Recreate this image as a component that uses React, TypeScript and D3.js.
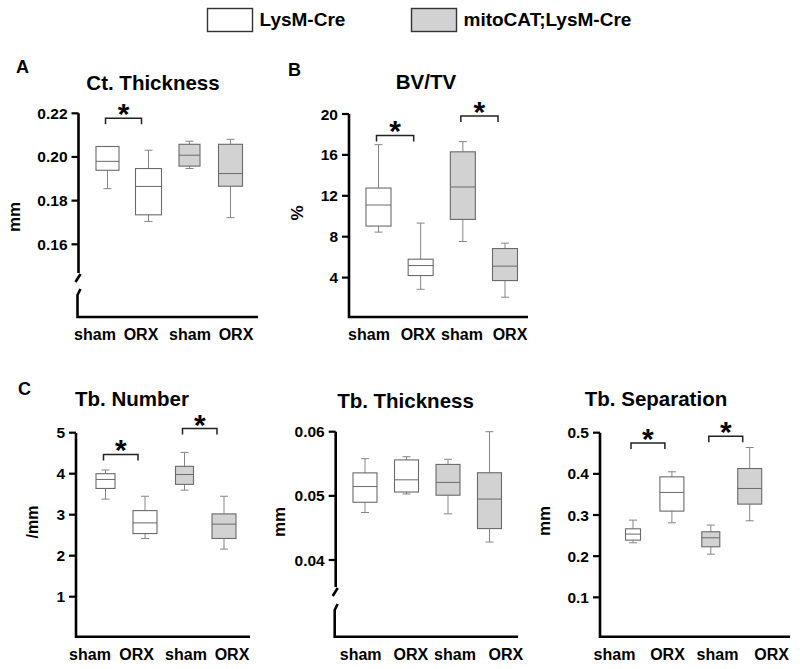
import React from "react";
import * as d3 from "d3";

// ---------- DATA ----------
const groups = ["LysM-Cre sham", "LysM-Cre ORX", "mitoCAT;LysM-Cre sham", "mitoCAT;LysM-Cre ORX"];
const xTickLabels = ["sham", "ORX", "sham", "ORX"];
const legendLabels = ["LysM-Cre", "mitoCAT;LysM-Cre"];

// box stats: [min, q1, median, q3, max]
const ctThickness = [
  [0.1855, 0.1939, 0.198, 0.2048, 0.2048],
  [0.1705, 0.1735, 0.1865, 0.1947, 0.2031],
  [0.1947, 0.1958, 0.2008, 0.2058, 0.2072],
  [0.1722, 0.1866, 0.1924, 0.2058, 0.2081],
];
const bvtv = [
  [8.45, 9.04, 11.1, 12.76, 17.0],
  [2.86, 4.2, 5.18, 5.8, 9.33],
  [7.53, 9.69, 12.86, 16.3, 17.3],
  [2.08, 3.71, 5.12, 6.84, 7.37],
];
const tbNumber = [
  [3.38, 3.64, 3.86, 4.0, 4.09],
  [2.42, 2.54, 2.8, 3.1, 3.45],
  [3.6, 3.74, 3.98, 4.18, 4.52],
  [2.16, 2.42, 2.77, 3.02, 3.45],
];
const tbThickness = [
  [0.0474, 0.049, 0.05145, 0.05358, 0.0558],
  [0.0503, 0.0506, 0.0525, 0.0556, 0.0561],
  [0.0472, 0.0501, 0.0521, 0.0549, 0.0557],
  [0.0428, 0.0449, 0.0495, 0.0536, 0.06],
];
const tbSeparation = [
  [0.2325, 0.239, 0.2536, 0.2665, 0.2876],
  [0.281, 0.3095, 0.3548, 0.3927, 0.405],
  [0.205, 0.2228, 0.2447, 0.2593, 0.2755],
  [0.286, 0.3265, 0.3645, 0.413, 0.464],
];

const ticksA = [0.16, 0.18, 0.2, 0.22];
const ticksB = [4, 8, 12, 16, 20];
const ticksC1 = [1, 2, 3, 4, 5];
const ticksC2 = [0.04, 0.05, 0.06];
const ticksC3 = [0.1, 0.2, 0.3, 0.4, 0.5];

// significance brackets: [groupA, groupB, level]
const sigA = [[0, 1, 0.2177]];
const sigB = [[0, 1, 17.9], [2, 3, 19.8]];
const sigC1 = [[0, 1, 4.47], [2, 3, 5.1]];
const sigC2: number[][] = [];
const sigC3 = [[0, 1, 0.475], [2, 3, 0.4915]];

// ---------- LAYOUT / STYLE ----------
const FONT = "'Liberation Sans', Arial, Helvetica, sans-serif";
const FILLS = ["#ffffff", "#ffffff", "#d2d2d2", "#d2d2d2"];
const BOX_STROKE = "#6a6a6a";
const WHISKER = "#858585";

type Panel = {
  letter?: string; letterX?: number; letterY?: number;
  title: string; titleX: number; titleY: number;
  yLabel: string; yLabelX: number; yLabelY: number; yLabelSize: number;
  data: number[][]; ticks: number[]; fmt: (v: number) => string;
  domain: [number, number]; range: [number, number];
  axisX: number; xEnd: number; bottom: number; brk?: [number, number];
  centers: [number, number]; widths: number[];
  labelXs: number[]; labelY: number;
  sig: number[][];
};

const panels: Panel[] = [
  {
    letter: "A", letterX: 16, letterY: 73,
    title: "Ct. Thickness", titleX: 153, titleY: 90,
    yLabel: "mm", yLabelX: 20, yLabelY: 217, yLabelSize: 17,
    data: ctThickness, ticks: ticksA, fmt: d3.format(".2f"),
    domain: [0.16, 0.22], range: [244.3, 113.3],
    axisX: 78.5, xEnd: 258, bottom: 317, brk: [273, 289],
    centers: [107.5, 230.5], widths: [23, 26, 21, 24],
    labelXs: [95, 141, 190, 236], labelY: 340,
    sig: sigA,
  },
  {
    letter: "B", letterX: 288, letterY: 76,
    title: "BV/TV", titleX: 426, titleY: 89,
    yLabel: "%", yLabelX: 303, yLabelY: 213, yLabelSize: 17,
    data: bvtv, ticks: ticksB, fmt: d3.format("d"),
    domain: [0, 20], range: [318.5, 114],
    axisX: 349, xEnd: 528, bottom: 317,
    centers: [378.5, 505], widths: [25, 25, 25, 25],
    labelXs: [369, 418, 462, 510], labelY: 340,
    sig: sigB,
  },
  {
    letter: "C", letterX: 18, letterY: 395,
    title: "Tb. Number", titleX: 132, titleY: 406,
    yLabel: "/mm", yLabelX: 38, yLabelY: 522, yLabelSize: 16,
    data: tbNumber, ticks: ticksC1, fmt: d3.format("d"),
    domain: [0, 5], range: [637.7, 432.7],
    axisX: 76, xEnd: 250, bottom: 636.7,
    centers: [105.5, 224], widths: [19, 24, 18, 24],
    labelXs: [90, 136.7, 186, 232], labelY: 659.5,
    sig: sigC1,
  },
  {
    title: "Tb. Thickness", titleX: 405.5, titleY: 408,
    yLabel: "mm", yLabelX: 285, yLabelY: 522, yLabelSize: 17,
    data: tbThickness, ticks: ticksC2, fmt: d3.format(".2f"),
    domain: [0.04, 0.06], range: [560, 431.7],
    axisX: 335.7, xEnd: 518, bottom: 636.7, brk: [587, 604],
    centers: [365, 489.5], widths: [24, 24, 24, 24],
    labelXs: [360.7, 410.8, 455, 505.8], labelY: 659.5,
    sig: sigC2,
  },
  {
    title: "Tb. Separation", titleX: 656, titleY: 406,
    yLabel: "mm", yLabelX: 550, yLabelY: 521, yLabelSize: 17,
    data: tbSeparation, ticks: ticksC3, fmt: d3.format(".1f"),
    domain: [0, 0.5], range: [638.5, 432.7],
    axisX: 600, xEnd: 790, bottom: 636.7,
    centers: [633, 749.7], widths: [15, 24, 18, 24],
    labelXs: [614.5, 667.5, 717.5, 771.7], labelY: 659.5,
    sig: sigC3,
  },
];

function PanelView({ p }: { p: Panel }) {
  const y = d3.scaleLinear().domain(p.domain).range(p.range);
  const x = d3.scalePoint<string>().domain(groups).range(p.centers);
  const top = y(p.domain[1]);
  const ax = p.axisX;
  const axisPath = p.brk
    ? `M${ax},${top}V${p.brk[0]} M${ax - 3},${p.brk[0] + 9}L${ax + 2},${p.brk[0] + 1} M${ax + 2},${p.brk[1]}L${ax - 1},${p.brk[1] + 6}V${p.bottom}H${p.xEnd}`
    : `M${ax},${top}V${p.bottom}H${p.xEnd}`;
  return (
    <g>
      {p.letter && (
        <text x={p.letterX} y={p.letterY} fontSize={18} fontWeight="bold" fontFamily={FONT}>{p.letter}</text>
      )}
      <text x={p.titleX} y={p.titleY} fontSize={20.5} fontWeight="bold" fontFamily={FONT} textAnchor="middle">{p.title}</text>
      <text transform={`translate(${p.yLabelX},${p.yLabelY}) rotate(-90)`} fontSize={p.yLabelSize} fontWeight="bold" fontFamily={FONT} textAnchor="middle">{p.yLabel}</text>
      <path d={axisPath} fill="none" stroke="#000" strokeWidth={2.6} />
      {p.ticks.map((t) => (
        <g key={t}>
          <line x1={ax - 7} x2={ax} y1={y(t)} y2={y(t)} stroke="#000" strokeWidth={2.2} />
          <text x={ax - 11} y={y(t) + 5.5} fontSize={15.5} fontWeight="bold" fontFamily={FONT} textAnchor="end">{p.fmt(t)}</text>
        </g>
      ))}
      {p.data.map((s, i) => {
        const cx = x(groups[i]) as number;
        const w = p.widths[i];
        const [mn, q1, md, q3, mx] = s;
        return (
          <g key={i}>
            <line x1={cx} x2={cx} y1={y(mx)} y2={y(q3)} stroke={WHISKER} strokeWidth={1} />
            <line x1={cx} x2={cx} y1={y(q1)} y2={y(mn)} stroke={WHISKER} strokeWidth={1} />
            <line x1={cx - 4} x2={cx + 4} y1={y(mx)} y2={y(mx)} stroke={WHISKER} strokeWidth={1} />
            <line x1={cx - 4} x2={cx + 4} y1={y(mn)} y2={y(mn)} stroke={WHISKER} strokeWidth={1} />
            <rect x={cx - w / 2} y={y(q3)} width={w} height={y(q1) - y(q3)} fill={FILLS[i]} stroke={BOX_STROKE} strokeWidth={1.1} />
            <line x1={cx - w / 2} x2={cx + w / 2} y1={y(md)} y2={y(md)} stroke={BOX_STROKE} strokeWidth={1} />
          </g>
        );
      })}
      {p.sig.map(([a, b, lvl], k) => {
        const x1 = (x(groups[a]) as number) - 2;
        const x2 = (x(groups[b]) as number) - 7;
        const yy = y(lvl);
        return (
          <g key={k}>
            <path d={`M${x1},${yy + 6}V${yy}H${x2}V${yy + 6}`} fill="none" stroke="#222" strokeWidth={1.5} />
            <text x={(x1 + x2) / 2} y={yy - 11 + 17} fontSize={30} fontWeight="bold" fontFamily={FONT} textAnchor="middle">*</text>
          </g>
        );
      })}
      {xTickLabels.map((l, i) => (
        <text key={i} x={p.labelXs[i]} y={p.labelY} fontSize={16} fontWeight="bold" fontFamily={FONT} textAnchor="middle">{l}</text>
      ))}
    </g>
  );
}

export default function App() {
  return (
    <svg width={800} height={669} style={{ position: "absolute", left: 0, top: 0, background: "#fff" }}>
      <rect width={800} height={669} fill="#fff" />
      {legendLabels.map((l, i) => {
        const bx = i === 0 ? 207.5 : 411.5;
        return (
          <g key={l}>
            <rect x={bx} y={8.5} width={45} height={23} fill={i === 0 ? "#fff" : "#d2d2d2"} stroke="#333" strokeWidth={1.4} />
            <text x={bx + 52} y={26} fontSize={19} fontWeight="bold" fontFamily={FONT}>{l}</text>
          </g>
        );
      })}
      {panels.map((p, i) => <PanelView key={i} p={p} />)}
    </svg>
  );
}
